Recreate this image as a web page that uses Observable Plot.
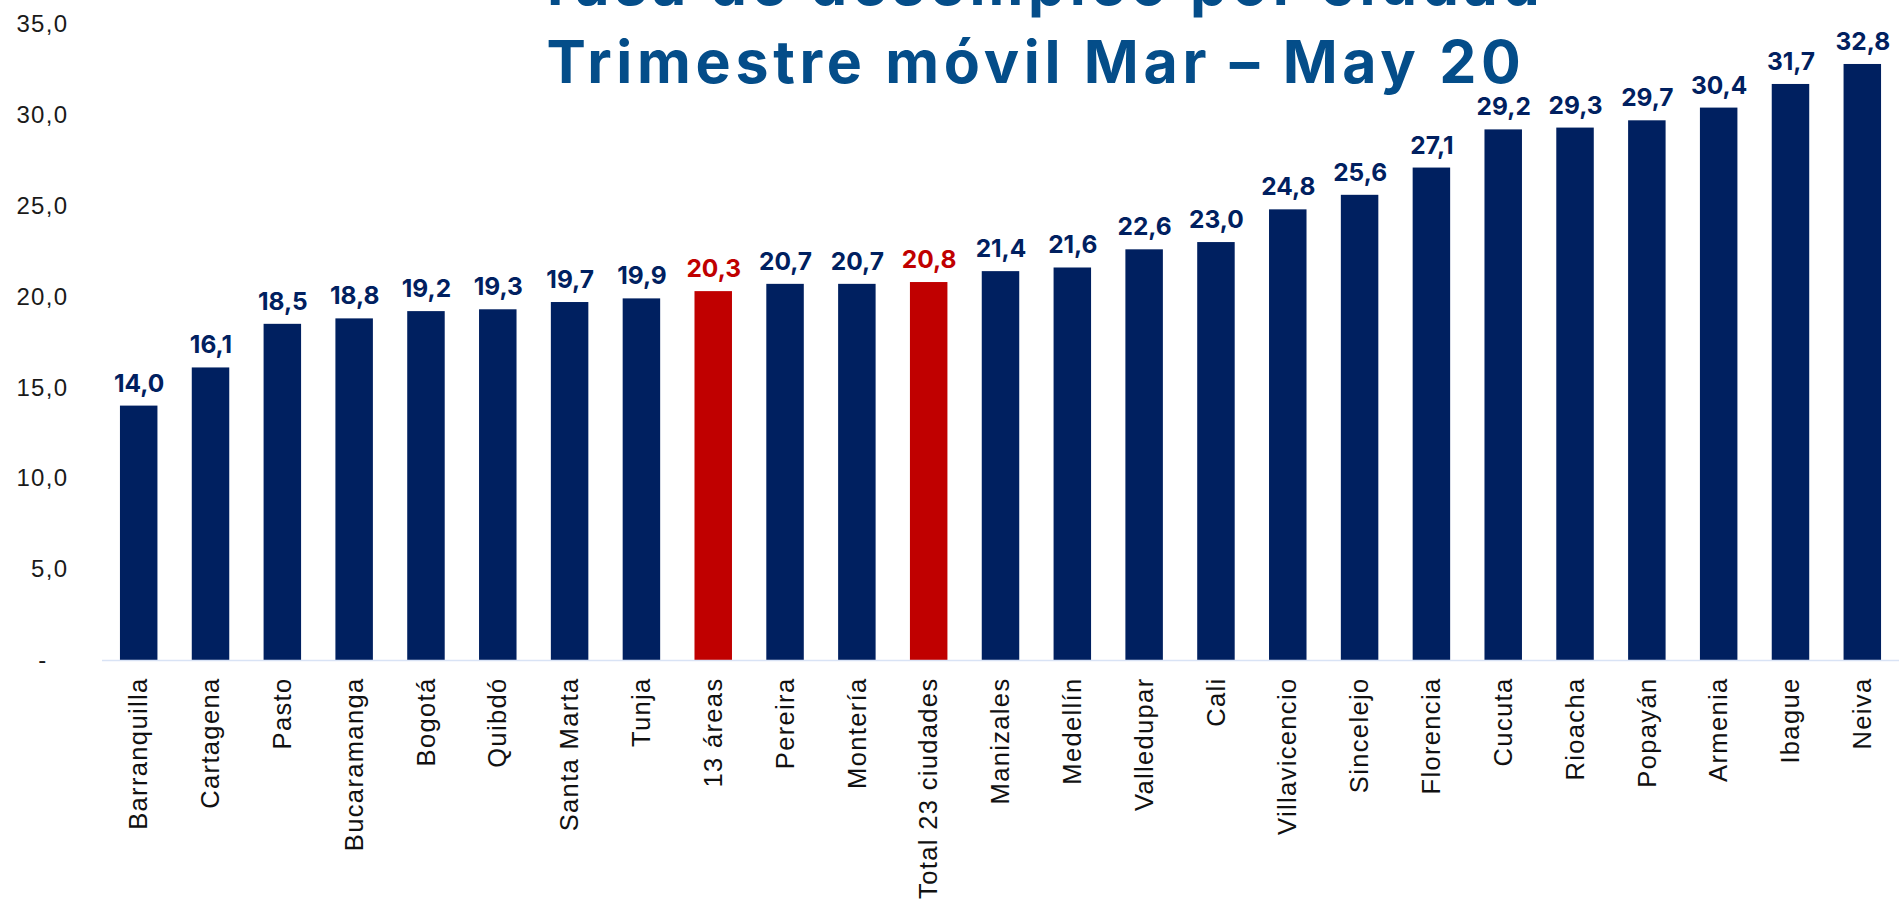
<!DOCTYPE html>
<html>
<head>
<meta charset="utf-8">
<script src="https://cdn.jsdelivr.net/npm/d3@7"></script>
<script src="https://cdn.jsdelivr.net/npm/@observablehq/plot@0.6"></script>
<style>
  html, body { margin: 0; padding: 0; background: #ffffff; }
  #chart { position: relative; width: 1900px; height: 906px; overflow: hidden; }
  #chart svg { display: block; }
</style>
</head>
<body>
<div id="chart"></div>
<script>
// ---- Data ----
const titleLines = ["Tasa de desempleo por ciudad", "Trimestre móvil Mar – May 20"];
const cities = ["Barranquilla","Cartagena","Pasto","Bucaramanga","Bogotá","Quibdó","Santa Marta","Tunja","13 áreas","Pereira","Montería","Total 23 ciudades","Manizales","Medellín","Valledupar","Cali","Villavicencio","Sincelejo","Florencia","Cucuta","Rioacha","Popayán","Armenia","Ibague","Neiva"];
const values = [14.0,16.1,18.5,18.8,19.2,19.3,19.7,19.9,20.3,20.7,20.7,20.8,21.4,21.6,22.6,23.0,24.8,25.6,27.1,29.2,29.3,29.7,30.4,31.7,32.8];
const highlighted = ["13 áreas","Total 23 ciudades"];
const yTicks = [0,5,10,15,20,25,30,35];

const navy = "#002060", red = "#C00000";
const data = cities.map((c, i) => ({city: c, value: values[i], hi: highlighted.includes(c)}));
const fmt = v => v.toFixed(1).replace(".", ",");

const chart = Plot.plot({
  width: 1900,
  height: 906,
  marginTop: 24,
  marginBottom: 246,
  marginLeft: 102,
  marginRight: 1,
  style: {background: "#ffffff", overflow: "visible"},
  x: {domain: cities, paddingInner: 0.478, paddingOuter: 0.25, round: false, label: null},
  y: {domain: [0, 35], label: null},
  marks: [
    Plot.barY(data, {x: "city", y: "value", fill: d => d.hi ? red : navy}),
    Plot.ruleY([0], {stroke: "#D9E3F5", strokeWidth: 1.5}),
    Plot.text(data, {
      x: "city", y: "value", text: d => fmt(d.value),
      fill: d => d.hi ? red : navy,
      lineAnchor: "bottom", dy: -14.5,
      fontFamily: "Inter, 'DejaVu Sans', sans-serif", fontWeight: 700, fontSize: 24.5,
      style: "letter-spacing:1.6px"
    }),
    Plot.axisY({
      ticks: yTicks,
      tickSize: 0, tickPadding: 34,
      tickFormat: d => d === 0 ? "-\u2007\u2009" : fmt(d),
      fontSize: 24, fill: "#1a1a1a",
      fontFamily: "'Liberation Sans', Arial, sans-serif",
      label: null
    }),
    Plot.axisX({
      tickSize: 0, tickPadding: 17, tickRotate: -90,
      fontSize: 25.5, fill: "#111111",
      fontFamily: "'Liberation Sans', Arial, sans-serif",
      label: null
    })
  ]
});

document.getElementById("chart").appendChild(chart);

// letter spacing for axis labels
d3.select(chart).selectAll("[aria-label='y-axis tick label'] text, [aria-label='x-axis tick label'] text")
  .style("letter-spacing", "1.35px");

// Title (overlaps plot area, first line partly cut at top)
const svg = d3.select(chart);
const tg = svg.append("g")
  .attr("font-family", "Inter, 'Open Sans', sans-serif")
  .attr("font-weight", 700)
  .attr("font-size", 59)
  .attr("fill", "#044D89")
  .attr("text-anchor", "middle")
  .style("letter-spacing", "4.7px");
tg.append("text").attr("x", 1040).attr("y", 5).text(titleLines[0]);
tg.append("text").attr("x", 1036).attr("y", 83).text(titleLines[1]);
</script>
</body>
</html>
